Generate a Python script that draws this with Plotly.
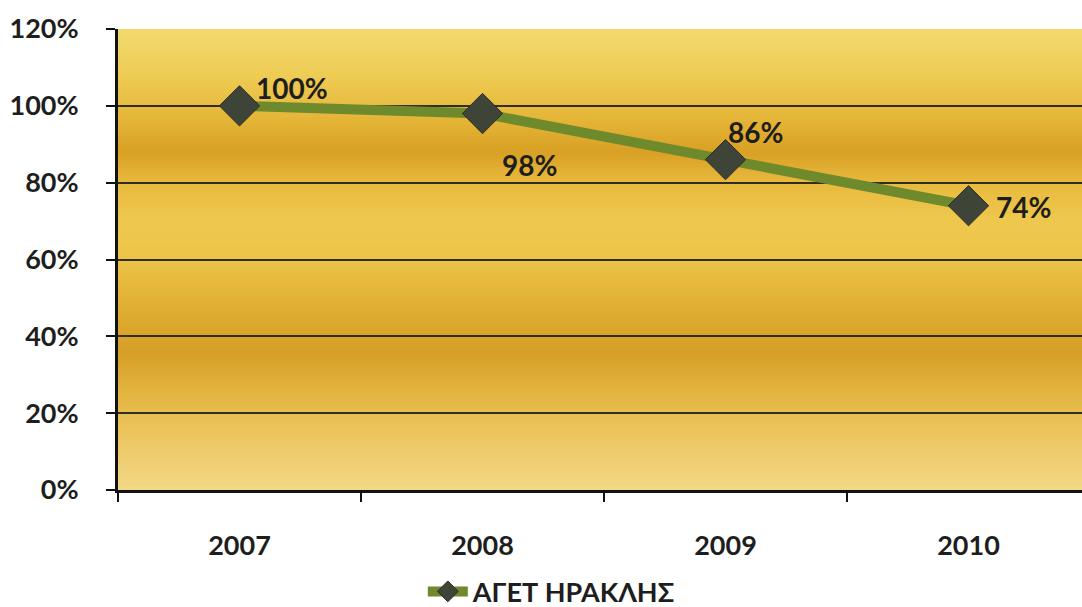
import plotly.graph_objects as go

# Data
years = ["2007", "2008", "2009", "2010"]
share = [100, 98, 86, 74]
series_name = "ΑΓΕΤ ΗΡΑΚΛΗΣ"
y_ticks = [0, 20, 40, 60, 80, 100, 120]
y_tick_text = ["0%", "20%", "40%", "60%", "80%", "100%", "120%"]

# Label offsets (pixels) for each point's value label
label_shift = [(52, 18), (47, -51), (30, 28), (55, -1)]

FONT = "Lato, 'Open Sans', sans-serif"
INK = "#1e1e1e"

# Vertical colour stops for the golden backdrop (value on y axis -> colour)
bg_stops = [
    (120, (242, 218, 112)),
    (108, (238, 204, 84)),
    (96, (228, 180, 54)),
    (88, (216, 160, 36)),
    (80, (232, 186, 62)),
    (70, (238, 200, 78)),
    (60, (236, 196, 72)),
    (50, (226, 178, 54)),
    (36, (214, 158, 38)),
    (26, (226, 180, 62)),
    (14, (236, 198, 96)),
    (0, (242, 216, 134)),
]


def lerp_color(v):
    for (v0, c0), (v1, c1) in zip(bg_stops, bg_stops[1:]):
        if v1 <= v <= v0:
            t = (v0 - v) / (v0 - v1)
            r, g, b = (round(a + (b_ - a) * t) for a, b_ in zip(c0, c1))
            return f"rgb({r},{g},{b})"
    return "rgb(236,200,80)"


# Backdrop drawn as overlapping thin bands so no seams show
shapes = []
step = 1.0
v = 0.0
while v < 120:
    shapes.append(dict(
        type="rect", xref="paper", yref="y", x0=0, x1=1,
        y0=v, y1=min(v + step + 0.6, 120),
        fillcolor=lerp_color(v + step / 2), line=dict(width=0), layer="below",
    ))
    v += step

fig = go.Figure()
fig.add_trace(go.Scatter(
    x=years, y=share, mode="lines+markers", name=series_name,
    line=dict(color="#6f8a2c", width=10),
    marker=dict(symbol="diamond", size=31, color="#3e4538",
                line=dict(color="#2a2e26", width=1)),
))

annotations = []
for i, (val, (dx, dy)) in enumerate(zip(share, label_shift)):
    annotations.append(dict(
        x=i, y=val, xref="x", yref="y", text=f"{val}%", showarrow=False,
        xshift=dx, yshift=dy, font=dict(family=FONT, size=28, color=INK, weight="bold"),
    ))

fig.update_layout(
    width=1082, height=607,
    margin=dict(l=118, r=0, t=29, b=117),
    paper_bgcolor="white", plot_bgcolor="rgba(0,0,0,0)",
    shapes=shapes, annotations=annotations,
    showlegend=True,
    legend=dict(orientation="h", xref="container", yref="container",
                x=0.51, y=0.025, xanchor="center", yanchor="middle",
                font=dict(family=FONT, size=27, color=INK, weight="bold"),
                itemwidth=40, bgcolor="rgba(0,0,0,0)"),
    font=dict(family=FONT, color=INK),
)

fig.update_xaxes(
    type="category", range=[-0.5, 3.467],
    tickson="boundaries", ticks="outside", ticklen=9,
    tickwidth=2, tickcolor="#111", showline=True, linewidth=3, linecolor="#111",
    showgrid=False, zeroline=False, ticklabelstandoff=30,
    tickfont=dict(family=FONT, size=27, color=INK, weight="bold"),
)
fig.update_yaxes(
    range=[0, 120], tickmode="array", tickvals=y_ticks, ticktext=y_tick_text,
    ticks="outside", ticklen=9, tickwidth=2, tickcolor="#111",
    showline=True, linewidth=3, linecolor="#111",
    showgrid=True, gridcolor="#2e2e26", gridwidth=2, zeroline=False,
    ticklabelstandoff=22,
    tickfont=dict(family=FONT, size=27, color=INK, weight="bold"),
)

fig.write_html("out.html")
